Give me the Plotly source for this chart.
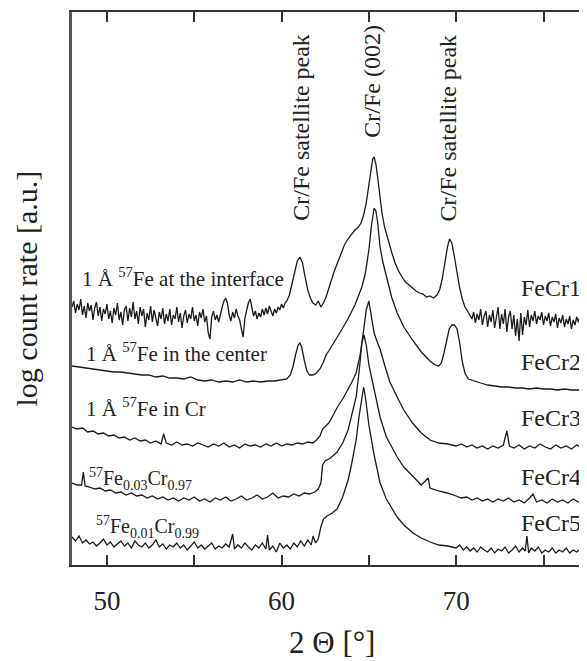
import plotly.graph_objects as go

# ---------------- data (2 theta in degrees, log count rate in arbitrary units) -------------
FECR1 = [
    (48.0, 258), (48.1, 264), (48.2, 252), (48.3, 261), (48.4, 255), (48.5, 266), (48.6, 250), (48.7, 259),
    (48.8, 247), (48.9, 262), (49.0, 254), (49.1, 260), (49.2, 245), (49.3, 257), (49.4, 263), (49.5, 249),
    (49.6, 258), (49.7, 244), (49.8, 256), (49.9, 251), (50.0, 261), (50.1, 246), (50.2, 254), (50.3, 242),
    (50.4, 257), (50.5, 250), (50.6, 262), (50.7, 245), (50.8, 253), (50.9, 240), (51.0, 255), (51.1, 259),
    (51.2, 244), (51.3, 257), (51.4, 248), (51.5, 263), (51.6, 246), (51.7, 254), (51.8, 241), (51.9, 258),
    (52.0, 249), (52.1, 256), (52.2, 238), (52.3, 252), (52.4, 245), (52.5, 259), (52.6, 243), (52.7, 255),
    (52.8, 247), (52.9, 239), (53.0, 253), (53.1, 246), (53.2, 257), (53.3, 241), (53.4, 251), (53.5, 244),
    (53.6, 256), (53.7, 240), (53.8, 250), (53.9, 246), (54.0, 258), (54.1, 243), (54.2, 252), (54.3, 237),
    (54.4, 249), (54.5, 255), (54.6, 242), (54.7, 251), (54.8, 246), (54.9, 258), (55.0, 244), (55.1, 250),
    (55.2, 239), (55.3, 253), (55.4, 247), (55.5, 256), (55.6, 243), (55.7, 249), (55.8, 232), (55.9, 226),
    (56.0, 248), (56.1, 254), (56.2, 245), (56.3, 250), (56.4, 243), (56.5, 252), (56.6, 258), (56.7, 264),
    (56.8, 267), (56.9, 262), (57.0, 250), (57.1, 244), (57.2, 253), (57.3, 247), (57.4, 256), (57.5, 249),
    (57.6, 245), (57.7, 236), (57.8, 228), (57.9, 247), (58.0, 255), (58.1, 262), (58.2, 266), (58.3, 258),
    (58.4, 249), (58.5, 254), (58.6, 246), (58.7, 252), (58.8, 248), (58.9, 256), (59.0, 250), (59.1, 257),
    (59.2, 251), (59.3, 259), (59.4, 253), (59.5, 249), (59.6, 256), (59.7, 252), (59.8, 258), (59.9, 255),
    (60.0, 261), (60.1, 257), (60.2, 262), (60.3, 264), (60.45, 270), (60.6, 281), (60.75, 294), (60.9, 304),
    (61.05, 308), (61.2, 302), (61.35, 288), (61.5, 275), (61.65, 267), (61.8, 262), (61.95, 260), (62.1, 264),
    (62.25, 258), (62.4, 262), (62.55, 268), (62.7, 277), (62.85, 286), (63.0, 293), (63.2, 302), (63.4, 312),
    (63.6, 320), (63.8, 326), (64.0, 331), (64.2, 335), (64.4, 338), (64.55, 342), (64.7, 350), (64.85, 362),
    (65.0, 380), (65.12, 397), (65.22, 406), (65.3, 408), (65.4, 401), (65.5, 388), (65.6, 372), (65.75, 352),
    (65.9, 338), (66.1, 324), (66.3, 313), (66.5, 302), (66.7, 294), (66.9, 288), (67.1, 283), (67.3, 280),
    (67.5, 277), (67.7, 274), (67.9, 272), (68.1, 271), (68.3, 268), (68.5, 269), (68.7, 267), (68.9, 270),
    (69.05, 275), (69.2, 286), (69.35, 302), (69.5, 318), (69.62, 326), (69.75, 322), (69.9, 308), (70.05, 292),
    (70.2, 277), (70.35, 266), (70.5, 258), (70.65, 254), (70.8, 250), (70.9, 246), (71.0, 253), (71.1, 242),
    (71.2, 251), (71.3, 245), (71.4, 256), (71.5, 240), (71.6, 249), (71.7, 254), (71.8, 238), (71.9, 250),
    (72.0, 243), (72.1, 255), (72.2, 237), (72.3, 249), (72.4, 258), (72.5, 236), (72.6, 251), (72.7, 241),
    (72.8, 256), (72.9, 233), (73.0, 248), (73.1, 254), (73.2, 236), (73.3, 250), (73.4, 229), (73.5, 246),
    (73.6, 224), (73.7, 252), (73.8, 230), (73.9, 248), (74.0, 240), (74.1, 255), (74.2, 238), (74.3, 250),
    (74.4, 244), (74.5, 254), (74.6, 241), (74.7, 249), (74.8, 245), (74.9, 253), (75.0, 240), (75.1, 249),
    (75.2, 244), (75.3, 252), (75.4, 239), (75.5, 248), (75.6, 243), (75.7, 251), (75.8, 237), (75.9, 247),
    (76.0, 242), (76.1, 250), (76.2, 238), (76.3, 246), (76.4, 241), (76.5, 249), (76.6, 236), (76.7, 245),
    (76.8, 240), (76.9, 248), (77.0, 243), (77.1, 250), (77.2, 239), (77.3, 246), (77.4, 242), (77.5, 248),
    (77.6, 244),
]

FECR2 = [
    (48.0, 199), (48.4, 198), (48.8, 197), (49.2, 196), (49.6, 195), (50.0, 194), (50.4, 193), (50.8, 193),
    (51.2, 192), (51.6, 191), (52.0, 190), (52.4, 190), (52.8, 188), (53.2, 189), (53.6, 187), (54.0, 187),
    (54.4, 186), (54.8, 188), (55.2, 185), (55.6, 184), (56.0, 185), (56.4, 183), (56.8, 184), (57.2, 183),
    (57.6, 185), (58.0, 183), (58.4, 184), (58.8, 183), (59.2, 184), (59.6, 184), (60.0, 185), (60.3, 186),
    (60.5, 190), (60.65, 198), (60.8, 210), (60.95, 220), (61.05, 222), (61.15, 218), (61.3, 205), (61.45, 194),
    (61.6, 190), (61.8, 190), (62.0, 192), (62.2, 196), (62.4, 203), (62.55, 210), (62.7, 214), (63.0, 222),
    (63.4, 234), (63.8, 246), (64.2, 260), (64.6, 278), (64.8, 292), (65.0, 315), (65.15, 340), (65.3, 357),
    (65.4, 354), (65.5, 343), (65.64, 318), (65.8, 303), (66.0, 290), (66.3, 268), (66.62, 252), (67.0, 238),
    (67.5, 225), (68.0, 213), (68.5, 204), (68.8, 200), (69.0, 199), (69.15, 202), (69.3, 212), (69.45, 226),
    (69.6, 236), (69.75, 240), (69.9, 240), (70.05, 236), (70.2, 222), (70.35, 203), (70.5, 192), (70.7, 186),
    (71.0, 184), (71.4, 182), (71.8, 180), (72.2, 179), (72.6, 178), (73.0, 178), (73.4, 177), (73.8, 177),
    (74.2, 176), (74.6, 177), (75.0, 176), (75.4, 176), (75.8, 175), (76.2, 176), (76.6, 175), (77.0, 175),
    (77.6, 175),
]

FECR3 = [
    (48.0, 138), (48.3, 136), (48.6, 137), (48.9, 133), (49.2, 134), (49.5, 131), (49.8, 132), (50.1, 129),
    (50.4, 130), (50.7, 127), (51.0, 128), (51.3, 125), (51.6, 127), (51.9, 124), (52.2, 125), (52.5, 122),
    (52.8, 124), (53.1, 121), (53.25, 131), (53.4, 122), (53.7, 120), (54.0, 123), (54.3, 120), (54.6, 121),
    (54.9, 119), (55.2, 122), (55.5, 120), (55.8, 118), (56.1, 121), (56.4, 119), (56.7, 122), (57.0, 118),
    (57.3, 120), (57.6, 117), (57.9, 121), (58.2, 119), (58.5, 120), (58.8, 118), (59.1, 121), (59.4, 119),
    (59.7, 122), (60.0, 119), (60.3, 121), (60.6, 120), (60.9, 122), (61.2, 121), (61.5, 123), (61.8, 122),
    (62.0, 125), (62.2, 129), (62.35, 136), (62.5, 139), (62.7, 142), (62.9, 148), (63.2, 158), (63.5, 166),
    (63.8, 175), (64.0, 182), (64.27, 192), (64.5, 210), (64.7, 235), (64.85, 255), (65.0, 264), (65.15, 250),
    (65.3, 232), (65.5, 222), (65.64, 216), (65.9, 200), (66.2, 183), (66.62, 168), (67.0, 155), (67.5, 142),
    (68.0, 132), (68.5, 125), (69.0, 122), (69.5, 121), (70.0, 119), (70.3, 121), (70.6, 118), (70.9, 120),
    (71.2, 117), (71.5, 119), (71.8, 116), (72.1, 119), (72.4, 117), (72.7, 120), (72.9, 134), (73.05, 119),
    (73.3, 117), (73.6, 120), (73.9, 116), (74.2, 119), (74.5, 117), (74.8, 121), (75.1, 118), (75.4, 116),
    (75.7, 120), (76.0, 117), (76.3, 119), (76.6, 116), (76.9, 120), (77.2, 117), (77.6, 118),
]

FECR4 = [
    (48.0, 82), (48.3, 80), (48.55, 80), (48.65, 93), (48.75, 79), (49.0, 78), (49.3, 76), (49.6, 77),
    (49.9, 74), (50.2, 75), (50.5, 72), (50.8, 73), (51.1, 70), (51.4, 72), (51.7, 69), (52.0, 70),
    (52.3, 67), (52.6, 69), (52.9, 66), (53.2, 68), (53.5, 65), (53.8, 67), (54.1, 64), (54.4, 67),
    (54.7, 65), (55.0, 68), (55.3, 64), (55.6, 66), (55.9, 63), (56.2, 67), (56.5, 65), (56.8, 68),
    (57.1, 64), (57.4, 66), (57.7, 69), (58.0, 65), (58.3, 67), (58.6, 70), (58.9, 66), (59.2, 68),
    (59.5, 72), (59.8, 67), (60.1, 69), (60.4, 68), (60.7, 71), (61.0, 69), (61.3, 72), (61.6, 71),
    (61.9, 73), (62.1, 76), (62.25, 82), (62.35, 100), (62.5, 104), (62.8, 107), (63.18, 113), (63.5, 122),
    (63.81, 135), (64.0, 148), (64.27, 168), (64.45, 195), (64.6, 222), (64.72, 230), (64.85, 220), (65.0, 200),
    (65.3, 175), (65.64, 148), (66.0, 128), (66.62, 108), (67.0, 98), (67.53, 88), (68.0, 80), (68.4, 87),
    (68.5, 77), (69.0, 74), (69.48, 72), (70.0, 69), (70.3, 67), (70.6, 68), (70.9, 65), (71.2, 67),
    (71.5, 64), (71.8, 66), (72.1, 63), (72.4, 66), (72.7, 64), (73.0, 67), (73.3, 63), (73.6, 65),
    (73.9, 62), (74.2, 67), (74.4, 71), (74.6, 63), (74.9, 65), (75.2, 62), (75.5, 66), (75.8, 63),
    (76.1, 65), (76.4, 62), (76.7, 66), (77.0, 63), (77.3, 65), (77.6, 63),
]

FECR5 = [
    (48.0, 28), (48.2, 24), (48.4, 29), (48.6, 22), (48.8, 25), (49.0, 21), (49.2, 23), (49.4, 19),
    (49.6, 22), (49.8, 26), (50.0, 20), (50.2, 23), (50.4, 18), (50.6, 21), (50.8, 24), (51.0, 19),
    (51.2, 22), (51.4, 17), (51.6, 24), (51.8, 20), (52.0, 18), (52.2, 22), (52.4, 17), (52.6, 20),
    (52.8, 25), (53.0, 18), (53.2, 21), (53.4, 16), (53.6, 20), (53.8, 18), (54.0, 22), (54.2, 17),
    (54.4, 20), (54.6, 15), (54.8, 19), (55.0, 23), (55.2, 17), (55.4, 20), (55.6, 16), (55.8, 19),
    (56.0, 22), (56.2, 16), (56.4, 19), (56.6, 17), (56.8, 21), (57.0, 18), (57.2, 31), (57.3, 16),
    (57.5, 20), (57.7, 17), (57.9, 22), (58.1, 18), (58.3, 15), (58.5, 20), (58.7, 17), (58.9, 22),
    (59.1, 16), (59.2, 30), (59.3, 15), (59.5, 19), (59.7, 13), (59.9, 22), (60.1, 17), (60.3, 20),
    (60.5, 16), (60.7, 22), (60.9, 18), (61.1, 24), (61.3, 19), (61.5, 25), (61.7, 20), (61.8, 29),
    (61.95, 22), (62.1, 26), (62.25, 38), (62.4, 46), (62.6, 49), (62.9, 52), (63.18, 56), (63.5, 68),
    (63.81, 85), (64.0, 100), (64.27, 125), (64.45, 150), (64.6, 170), (64.7, 178), (64.8, 168), (65.0, 140),
    (65.3, 110), (65.64, 82), (66.0, 66), (66.62, 48), (67.0, 40), (67.53, 32), (68.0, 27), (68.51, 23),
    (69.0, 20), (69.5, 19), (70.0, 17), (70.2, 20), (70.4, 15), (70.6, 18), (70.8, 14), (71.0, 17),
    (71.2, 13), (71.4, 18), (71.6, 15), (71.8, 13), (72.0, 17), (72.2, 12), (72.4, 16), (72.6, 14),
    (72.8, 18), (73.0, 12), (73.2, 15), (73.4, 19), (73.6, 13), (73.8, 17), (73.95, 14), (74.05, 29),
    (74.15, 12), (74.3, 17), (74.5, 14), (74.7, 18), (74.9, 12), (75.1, 15), (75.3, 13), (75.5, 17),
    (75.7, 12), (75.9, 15), (76.1, 13), (76.3, 17), (76.5, 12), (76.7, 15), (76.9, 13), (77.1, 16),
    (77.3, 12), (77.6, 14),
]

SERIES = [FECR1, FECR2, FECR3, FECR4, FECR5]
SAMPLE_NAMES = ["FeCr1", "FeCr2", "FeCr3", "FeCr4", "FeCr5"]
SAMPLE_DESCR = [
    "1 Å <sup>57</sup>Fe at the interface",
    "1 Å <sup>57</sup>Fe in the center",
    "1 Å <sup>57</sup>Fe in Cr",
    "<sup>57</sup>Fe<sub>0.03</sub>Cr<sub>0.97</sub>",
    "<sup>57</sup>Fe<sub>0.01</sub>Cr<sub>0.99</sub>",
]
# label anchor positions (x in degrees, y in arbitrary units)
NAME_POS = [(73.62, 277), (73.62, 203), (73.62, 147), (73.62, 88), (73.62, 42)]
DESCR_POS = [(48.47, 288), (48.7, 213), (48.7, 158), (48.88, 86), (49.28, 38)]
DESCR_SIZE = [21, 21, 21, 20, 20]

PEAK_LABELS = ["Cr/Fe satellite peak", "Cr/Fe (002)", "Cr/Fe satellite peak"]
PEAK_POS = [61.07, 65.13, 69.53]
PEAK_LABEL_BASE = [342, 425, 342]

X_TICKS = [50, 55, 60, 65, 70, 75]
X_TICK_TEXT = ["50", "", "60", "", "70", ""]

FONT = "Liberation Serif, Times New Roman, serif"
TXT = "#222222"

fig = go.Figure()
for s in SERIES:
    xs = [p[0] for p in s]
    ys = [p[1] for p in s]
    fig.add_trace(go.Scatter(x=xs, y=ys, mode="lines",
                             line=dict(color="#1a1a1a", width=1.3),
                             showlegend=False, hoverinfo="skip"))

ann = []
for name, (x, y) in zip(SAMPLE_NAMES, NAME_POS):
    ann.append(dict(x=x, y=y, xref="x", yref="y", text=name, showarrow=False,
                    xanchor="left", yanchor="middle", font=dict(family=FONT, size=24, color=TXT)))
for d, (x, y), fs in zip(SAMPLE_DESCR, DESCR_POS, DESCR_SIZE):
    ann.append(dict(x=x, y=y, xref="x", yref="y", text=d, showarrow=False,
                    xanchor="left", yanchor="middle", font=dict(family=FONT, size=fs, color=TXT)))
for lab, x, yb in zip(PEAK_LABELS, PEAK_POS, PEAK_LABEL_BASE):
    ann.append(dict(x=x, y=yb, xref="x", yref="y", text=lab, showarrow=False, textangle=-90,
                    xanchor="center", yanchor="bottom", font=dict(family=FONT, size=24, color=TXT)))
# axis titles
ann.append(dict(x=-0.0874, y=0.5, xref="paper", yref="paper", text="log count rate [a.u.]",
                showarrow=False, textangle=-90, xanchor="center", yanchor="middle",
                font=dict(family=FONT, size=30, color=TXT)))
ann.append(dict(x=0.505, y=-0.141, xref="paper", yref="paper", text="2 Θ [°]",
                showarrow=False, xanchor="center", yanchor="middle",
                font=dict(family=FONT, size=31, color=TXT)))

# the page body adds an 8 px margin, so the figure is 8 px smaller and shifted
fig.update_layout(
    width=579, height=653,
    margin=dict(l=64, r=0, t=4, b=96),
    paper_bgcolor="white", plot_bgcolor="white",
    annotations=ann,
    xaxis=dict(range=[48.0, 77.49], tickmode="array", tickvals=X_TICKS, ticktext=X_TICK_TEXT,
               ticks="inside", ticklen=10, tickwidth=2, tickcolor="#333",
               showline=True, linewidth=2, linecolor="#333", mirror="ticks",
               showgrid=False, zeroline=False, ticklabelstandoff=11,
               tickfont=dict(family=FONT, size=27, color=TXT)),
    yaxis=dict(range=[0, 553], showticklabels=False, ticks="", showgrid=False, zeroline=False,
               showline=True, linewidth=2.5, linecolor="#555"),
)

fig.write_html("out.html")
